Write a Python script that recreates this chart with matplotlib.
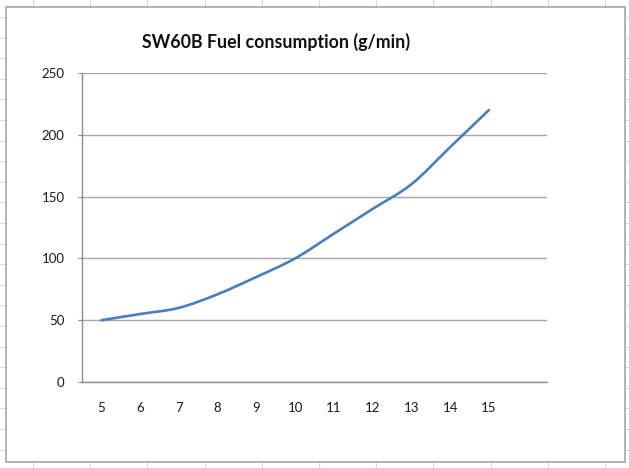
import matplotlib
matplotlib.use("Agg")
import matplotlib.pyplot as plt
from matplotlib.path import Path
from matplotlib.patches import PathPatch, Rectangle
from matplotlib.lines import Line2D

plt.rcParams['font.family'] = ['Lato', 'DejaVu Sans']

speeds = [5, 6, 7, 8, 9, 10, 11, 12, 13, 14, 15]
fuel = [50, 55, 60, 71, 85, 100, 120, 140, 160, 190, 220]
y_ticks = [0, 50, 100, 150, 200, 250]
title = "SW60B Fuel consumption (g/min)"

W, H = 629, 468
fig = plt.figure(figsize=(W / 100, H / 100), dpi=100)
fig.patch.set_facecolor("white")

# spreadsheet cell grid behind chart
for i in range(12):
    x = (33 + 57.2 * i) / W
    fig.add_artist(Line2D([x, x], [0, 1], color="#dadada", lw=0.8, zorder=-3,
                          transform=fig.transFigure))
for i in range(23):
    y = 1 - (17 + 20.6 * i) / H
    fig.add_artist(Line2D([0, 1], [y, y], color="#dadada", lw=0.8, zorder=-3,
                          transform=fig.transFigure))
# chart area box
fig.add_artist(Rectangle((6.5 / W, 1 - 462 / H), (625 - 6.5) / W, (462 - 7) / H,
                         facecolor="white", edgecolor="#a6a6a6", lw=1.2,
                         zorder=-2, transform=fig.transFigure))

ax = fig.add_axes([82 / W, 1 - 382 / H, (547 - 82) / W, (382 - 73) / H])
ax.set_facecolor("none")
ax.set_xlim(4.5, 16.5)
ax.set_ylim(0, 250)
ax.set_yticks(y_ticks)
ax.set_xticks(speeds)
ax.set_xticklabels([str(s) for s in speeds])
ax.grid(axis="y", color="#a6a6a6", lw=1.0)
ax.set_axisbelow(True)
for s in ["top", "right"]:
    ax.spines[s].set_visible(False)
for s in ["left", "bottom"]:
    ax.spines[s].set_color("#8c8c8c")
    ax.spines[s].set_linewidth(1.0)
ax.tick_params(axis="y", length=3, color="#8c8c8c", pad=9.5, labelsize=9.5, labelcolor="#1a1a1a")
ax.tick_params(axis="x", length=0, pad=14.5, labelsize=9.5, labelcolor="#1a1a1a")

# smoothed line (Excel-like Bezier smoothing through data points)
pts = list(zip(speeds, fuel))
verts = [pts[0]]
codes = [Path.MOVETO]
n = len(pts)
for i in range(n - 1):
    p0 = pts[i - 1] if i > 0 else pts[i]
    p1 = pts[i]
    p2 = pts[i + 1]
    p3 = pts[i + 2] if i + 2 < n else pts[i + 1]
    c1 = (p1[0] + (p2[0] - p0[0]) / 6, p1[1] + (p2[1] - p0[1]) / 6)
    c2 = (p2[0] - (p3[0] - p1[0]) / 6, p2[1] - (p3[1] - p1[1]) / 6)
    verts += [c1, c2, p2]
    codes += [Path.CURVE4] * 3
ax.add_patch(PathPatch(Path(verts, codes), fill=False, edgecolor="#4a7ebb",
                       lw=1.9, capstyle="round", joinstyle="round", zorder=3))

fig.text(276.5 / W, 1 - 42 / H, title, ha="center", va="center",
         fontsize=12.8, fontweight="bold", color="#111111")

fig.savefig("out.png", dpi=100)
